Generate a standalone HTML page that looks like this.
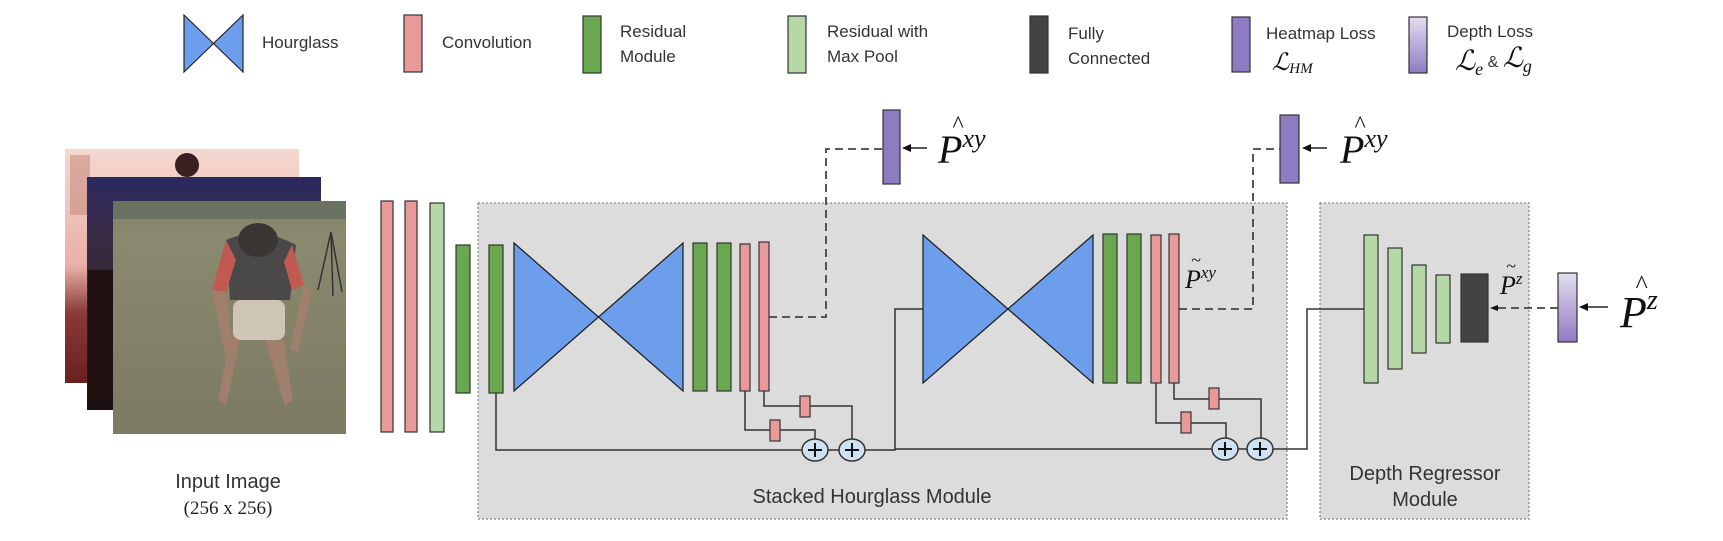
<!DOCTYPE html>
<html><head><meta charset="utf-8"><style>
html,body{margin:0;padding:0;background:#fff}
svg{display:block}
.s{font-family:"Liberation Sans",sans-serif;fill:#333}
.m{font-family:"Liberation Serif",serif;font-style:italic;fill:#111}
</style></head><body>
<svg width="1723" height="541" viewBox="0 0 1723 541" xmlns="http://www.w3.org/2000/svg">
<defs>
<linearGradient id="dl" x1="0" y1="0" x2="0" y2="1"><stop offset="0" stop-color="#e4dcf0"/><stop offset="1" stop-color="#8e7cc3"/></linearGradient>
<linearGradient id="im1" x1="0" y1="0" x2="0" y2="1"><stop offset="0" stop-color="#f4d8d0"/><stop offset="0.5" stop-color="#e8b0a8"/><stop offset="0.7" stop-color="#8a3a38"/><stop offset="1" stop-color="#6a2020"/></linearGradient>
<linearGradient id="im2" x1="0" y1="0" x2="0" y2="1"><stop offset="0" stop-color="#2a2a60"/><stop offset="0.3" stop-color="#3a2a40"/><stop offset="1" stop-color="#1a1010"/></linearGradient>
<linearGradient id="im3" x1="0" y1="0" x2="0" y2="1"><stop offset="0" stop-color="#7a8068"/><stop offset="0.15" stop-color="#8a8a70"/><stop offset="1" stop-color="#7c7a62"/></linearGradient>
</defs>
<!-- legend -->
<polygon points="184,15 243,72 243,15 184,72" fill="#6d9eeb" stroke="#222" stroke-width="1.2"/>
<text class="s" x="262" y="48" font-size="17">Hourglass</text>
<rect x="404" y="15" width="18" height="57" fill="#ea9999" stroke="#333" stroke-width="1.2"/>
<text class="s" x="442" y="48" font-size="17">Convolution</text>
<rect x="583" y="16" width="18" height="57" fill="#6aa84f" stroke="#333" stroke-width="1.2"/>
<text class="s" x="620" y="37" font-size="17">Residual</text>
<text class="s" x="620" y="62" font-size="17">Module</text>
<rect x="788" y="16" width="18" height="57" fill="#b6d7a8" stroke="#333" stroke-width="1.2"/>
<text class="s" x="827" y="37" font-size="17">Residual with</text>
<text class="s" x="827" y="62" font-size="17">Max Pool</text>
<rect x="1030" y="16" width="18" height="57" fill="#434343" stroke="#333" stroke-width="1.2"/>
<text class="s" x="1068" y="39" font-size="17">Fully</text>
<text class="s" x="1068" y="64" font-size="17">Connected</text>
<rect x="1232" y="17" width="18" height="55" fill="#8e7cc3" stroke="#333" stroke-width="1.2"/>
<text class="s" x="1266" y="39" font-size="17">Heatmap Loss</text>
<text class="m" x="1272" y="70" font-size="24" fill="#555">ℒ<tspan font-size="15" dy="3">HM</tspan></text>
<rect x="1409" y="17" width="18" height="56" fill="url(#dl)" stroke="#333" stroke-width="1.2"/>
<text class="s" x="1447" y="37" font-size="17">Depth Loss</text>
<text class="m" x="1455" y="70" font-size="28">ℒ<tspan font-size="18" dy="5">e</tspan><tspan class="s" font-style="normal" font-size="16" dy="-8"> &amp; </tspan><tspan font-size="28">ℒ</tspan><tspan font-size="18" dy="5">g</tspan></text>

<!-- images -->
<rect x="65" y="149" width="234" height="234" fill="url(#im1)"/>
<rect x="70" y="155" width="20" height="60" fill="#c08070" opacity="0.5"/>
<circle cx="187" cy="165" r="12" fill="#3a2020"/>
<rect x="87" y="177" width="234" height="233" fill="url(#im2)"/>
<rect x="88" y="270" width="25" height="130" fill="#201010"/>
<rect x="113" y="201" width="233" height="233" fill="url(#im3)"/>
<rect x="113" y="201" width="233" height="18" fill="#6a7262"/>
<path d="M232 330 L218 400 L226 405 L240 340 L265 340 L285 405 L293 400 L282 330Z" fill="#a07f6c"/>
<rect x="233" y="300" width="52" height="40" rx="8" fill="#cfc5b5"/>
<path d="M226 240 Q260 225 296 245 L290 300 L230 300Z" fill="#4a4848"/>
<path d="M226 240 L212 290 L226 292 L236 260Z M292 245 L304 285 L292 290 L284 262Z" fill="#c05a50"/>
<ellipse cx="258" cy="240" rx="20" ry="17" fill="#3a3634"/>
<path d="M212 290 L226 360 L234 358 L226 292Z M304 285 L290 350 L298 352 L312 288Z" fill="#a07f6c"/>
<path d="M318 290 L331 232 L342 292 M331 232 L333 296" fill="none" stroke="#333" stroke-width="1.5"/>

<!-- pre bars -->
<rect x="381" y="201" width="12" height="231" fill="#ea9999" stroke="#333" stroke-width="1.2"/>
<rect x="405" y="201" width="12" height="231" fill="#ea9999" stroke="#333" stroke-width="1.2"/>
<rect x="430" y="203" width="14" height="229" fill="#b6d7a8" stroke="#333" stroke-width="1.2"/>
<rect x="456" y="245" width="14" height="148" fill="#6aa84f" stroke="#333" stroke-width="1.2"/>

<!-- boxes -->
<rect x="478" y="203" width="809" height="316" fill="#dcdcdc" stroke="#888" stroke-width="1.3" stroke-dasharray="2,2"/>
<rect x="1320" y="203" width="209" height="316" fill="#dcdcdc" stroke="#888" stroke-width="1.3" stroke-dasharray="2,2"/>
<text class="s" x="872" y="503" font-size="20" text-anchor="middle">Stacked Hourglass Module</text>
<text class="s" x="1425" y="480" font-size="20" text-anchor="middle">Depth Regressor</text>
<text class="s" x="1425" y="506" font-size="20" text-anchor="middle">Module</text>
<text class="s" x="228" y="488" font-size="20" text-anchor="middle">Input Image</text>
<text x="228" y="514" font-size="19" text-anchor="middle" font-family="Liberation Serif,serif" fill="#222">(256 x 256)</text>

<g fill="none" stroke="#333" stroke-width="1.5">
<polyline points="496,393 496,450 802,450"/>
<polyline points="745,391 745,430 815,430 815,439"/>
<polyline points="764,391 764,406 852,406 852,439"/>
<line x1="828" y1="450" x2="839" y2="450"/>
<polyline points="865,450 895,450 895,309 923,309"/>
<line x1="895" y1="449" x2="1212" y2="449"/>
<polyline points="1156,383 1156,423 1226,423 1226,438"/>
<polyline points="1174,383 1174,399 1261,399 1261,438"/>
<line x1="1238" y1="449" x2="1247" y2="449"/>
<polyline points="1273,449 1307,449 1307,309 1364,309"/>
</g>
<g fill="none" stroke="#444" stroke-width="1.8" stroke-dasharray="8,5">
<polyline points="769,317 826,317 826,149 883,149"/>
<polyline points="1179,309 1253,309 1253,149 1280,149"/>
<line x1="1558" y1="308" x2="1496" y2="308"/>
</g>
<!-- block1 -->
<rect x="489" y="245" width="14" height="148" fill="#6aa84f" stroke="#333" stroke-width="1.2"/>
<polygon points="514,243 683,391 683,243 514,391" fill="#6d9eeb" stroke="#222" stroke-width="1.3"/>
<rect x="693" y="243" width="14" height="148" fill="#6aa84f" stroke="#333" stroke-width="1.2"/>
<rect x="717" y="243" width="14" height="148" fill="#6aa84f" stroke="#333" stroke-width="1.2"/>
<rect x="740" y="244" width="10" height="147" fill="#ea9999" stroke="#333" stroke-width="1.2"/>
<rect x="759" y="242" width="10" height="149" fill="#ea9999" stroke="#333" stroke-width="1.2"/>
<rect x="770" y="420" width="10" height="21" fill="#ea9999" stroke="#333" stroke-width="1.2"/>
<rect x="800" y="396" width="10" height="21" fill="#ea9999" stroke="#333" stroke-width="1.2"/>
<!-- block2 -->
<polygon points="923,235 1093,383 1093,235 923,383" fill="#6d9eeb" stroke="#222" stroke-width="1.3"/>
<rect x="1103" y="234" width="14" height="149" fill="#6aa84f" stroke="#333" stroke-width="1.2"/>
<rect x="1127" y="234" width="14" height="149" fill="#6aa84f" stroke="#333" stroke-width="1.2"/>
<rect x="1151" y="235" width="10" height="148" fill="#ea9999" stroke="#333" stroke-width="1.2"/>
<rect x="1169" y="234" width="10" height="149" fill="#ea9999" stroke="#333" stroke-width="1.2"/>
<rect x="1181" y="412" width="10" height="21" fill="#ea9999" stroke="#333" stroke-width="1.2"/>
<rect x="1209" y="388" width="10" height="21" fill="#ea9999" stroke="#333" stroke-width="1.2"/>
<g fill="#cfe2f3" stroke="#333" stroke-width="1.5">
<ellipse cx="815" cy="450" rx="13" ry="11"/><ellipse cx="852" cy="450" rx="13" ry="11"/>
<ellipse cx="1225" cy="449" rx="13" ry="11"/><ellipse cx="1260" cy="449" rx="13" ry="11"/>
</g>
<g stroke="#111" stroke-width="2">
<path d="M808 450h14M815 443v14M845 450h14M852 443v14M1218 449h14M1225 442v14M1253 449h14M1260 442v14"/>
</g>
<!-- depth regressor -->
<rect x="1364" y="235" width="14" height="148" fill="#b6d7a8" stroke="#333" stroke-width="1.2"/>
<rect x="1388" y="248" width="14" height="121" fill="#b6d7a8" stroke="#333" stroke-width="1.2"/>
<rect x="1412" y="265" width="14" height="88" fill="#b6d7a8" stroke="#333" stroke-width="1.2"/>
<rect x="1436" y="275" width="14" height="68" fill="#b6d7a8" stroke="#333" stroke-width="1.2"/>
<rect x="1461" y="274" width="27" height="68" fill="#434343" stroke="#333" stroke-width="1.2"/>
<polygon points="1490,308 1498,305 1498,311" fill="#111"/>
<rect x="1558" y="273" width="19" height="69" fill="url(#dl)" stroke="#333" stroke-width="1.2"/>
<line x1="1608" y1="307" x2="1585" y2="307" stroke="#222" stroke-width="1.5"/>
<polygon points="1579,307 1588,303 1588,311" fill="#111"/>
<!-- heatmaps -->
<rect x="883" y="110" width="17" height="74" fill="#8e7cc3" stroke="#333" stroke-width="1.2"/>
<line x1="927" y1="148" x2="908" y2="148" stroke="#222" stroke-width="1.5"/>
<polygon points="902,148 911,144 911,152" fill="#111"/>
<rect x="1280" y="115" width="19" height="68" fill="#8e7cc3" stroke="#333" stroke-width="1.2"/>
<line x1="1327" y1="148" x2="1308" y2="148" stroke="#222" stroke-width="1.5"/>
<polygon points="1302,148 1311,144 1311,152" fill="#111"/>
<!-- math labels -->
<text class="m" x="938" y="163" font-size="40">P<tspan font-size="26" dy="-16">xy</tspan></text>
<text class="m" x="952" y="132" font-size="24">^</text>
<text class="m" x="1340" y="163" font-size="40">P<tspan font-size="26" dy="-16">xy</tspan></text>
<text class="m" x="1354" y="132" font-size="24">^</text>
<text class="m" x="1185" y="288" font-size="26">P<tspan font-size="17" dy="-10">xy</tspan></text>
<text class="m" x="1191" y="266" font-size="18">~</text>
<text class="m" x="1500" y="294" font-size="26">P<tspan font-size="17" dy="-10">z</tspan></text>
<text class="m" x="1506" y="272" font-size="18">~</text>
<text class="m" x="1620" y="327" font-size="44">P<tspan font-size="28" dy="-18">z</tspan></text>
<text class="m" x="1635" y="293" font-size="26">^</text>
</svg>
</body></html>
